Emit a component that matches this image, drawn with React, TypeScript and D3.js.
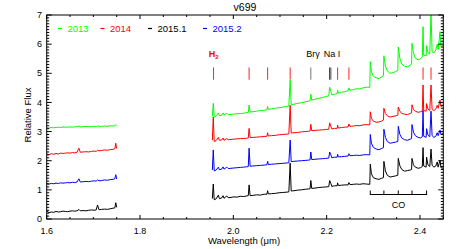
import React from 'react';
import * as d3 from 'd3';

const W = 457;
const H = 249;

const xMajorTicks = [1.6, 1.8, 2.0, 2.2, 2.4];
const yMajorTicks = [0, 1, 2, 3, 4, 5, 6, 7];

const seriesNames = ['2013', '2014', '2015.1', '2015.2'];
const seriesColors = ['#00ff00', '#ff0000', '#000000', '#0000ff'];

// H band
const hWave = [1.600, 1.605, 1.610, 1.615, 1.620, 1.625, 1.630, 1.635, 1.640, 1.645, 1.650, 1.655, 1.660, 1.665, 1.669, 1.672,
  1.678, 1.684, 1.690, 1.696, 1.702, 1.706, 1.709, 1.712, 1.718, 1.724, 1.730, 1.736, 1.742, 1.746, 1.748, 1.750];
const h2013 = [3.14, 3.12, 3.14, 3.13, 3.14, 3.15, 3.14, 3.16, 3.15, 3.15, 3.16, 3.15, 3.16, 3.17, 3.19, 3.16,
  3.17, 3.18, 3.17, 3.17, 3.18, 3.17, 3.20, 3.18, 3.18, 3.19, 3.18, 3.20, 3.19, 3.20, 3.24, 3.21];
const h2014 = [2.23, 2.21, 2.24, 2.22, 2.25, 2.23, 2.26, 2.25, 2.26, 2.27, 2.26, 2.28, 2.27, 2.29, 2.43, 2.29,
  2.30, 2.31, 2.30, 2.32, 2.33, 2.32, 2.36, 2.34, 2.35, 2.37, 2.36, 2.38, 2.39, 2.41, 2.60, 2.42];
const h2015a = [0.27, 0.22, 0.24, 0.23, 0.26, 0.24, 0.25, 0.27, 0.26, 0.25, 0.27, 0.28, 0.27, 0.28, 0.33, 0.28,
  0.29, 0.28, 0.30, 0.31, 0.30, 0.31, 0.48, 0.32, 0.33, 0.34, 0.33, 0.35, 0.37, 0.38, 0.56, 0.40];
const h2015b = [1.22, 1.20, 1.22, 1.21, 1.23, 1.22, 1.24, 1.23, 1.24, 1.25, 1.24, 1.26, 1.25, 1.27, 1.38, 1.27,
  1.28, 1.29, 1.28, 1.30, 1.31, 1.30, 1.34, 1.31, 1.32, 1.34, 1.33, 1.35, 1.36, 1.38, 1.52, 1.37];

// K band
const kWave = [1.955, 1.957, 1.959, 1.963, 1.968, 1.970, 1.975, 1.978, 1.980, 1.986, 1.989, 1.995, 2.001, 2.008, 2.015, 2.022,
  2.028, 2.032, 2.0338, 2.036, 2.042, 2.050, 2.058, 2.066, 2.072, 2.0735, 2.075, 2.082, 2.090, 2.098, 2.106, 2.113,
  2.119, 2.1218, 2.124, 2.130, 2.138, 2.146, 2.154, 2.161, 2.1645, 2.1661, 2.168, 2.175, 2.183, 2.191, 2.198, 2.2045,
  2.2065, 2.209, 2.211, 2.217, 2.2225, 2.2235, 2.225, 2.232, 2.239, 2.246, 2.2477, 2.250, 2.257, 2.264, 2.271, 2.278,
  2.285, 2.2925, 2.2935, 2.296, 2.300, 2.306, 2.312, 2.318, 2.3218, 2.3227, 2.326, 2.330, 2.336, 2.342, 2.348, 2.3525,
  2.3535, 2.357, 2.361, 2.367, 2.373, 2.379, 2.3820, 2.3829, 2.386, 2.390, 2.396, 2.401, 2.405, 2.4066, 2.408, 2.4132,
  2.4142, 2.417, 2.421, 2.4237, 2.426, 2.430, 2.434, 2.437, 2.439, 2.443, 2.445, 2.450];
const k2013 = [3.52, 3.97, 3.50, 3.54, 3.64, 3.55, 3.56, 3.64, 3.57, 3.63, 3.58, 3.59, 3.60, 3.61, 3.62, 3.63,
  3.65, 3.66, 3.91, 3.67, 3.68, 3.70, 3.72, 3.73, 3.75, 3.86, 3.76, 3.78, 3.80, 3.82, 3.84, 3.86,
  3.88, 4.77, 3.92, 3.94, 3.97, 3.99, 4.02, 4.04, 4.06, 4.28, 4.08, 4.11, 4.14, 4.17, 4.20, 4.23,
  4.52, 4.38, 4.26, 4.28, 4.30, 4.42, 4.32, 4.35, 4.37, 4.40, 4.50, 4.42, 4.44, 4.47, 4.46, 4.50,
  4.52, 4.52, 5.40, 5.05, 4.90, 4.84, 4.82, 4.88, 4.92, 5.60, 5.25, 5.08, 5.00, 5.02, 5.06, 5.10,
  5.90, 5.50, 5.32, 5.24, 5.22, 5.28, 5.32, 6.03, 5.70, 5.52, 5.46, 5.50, 5.56, 6.60, 5.62, 5.60,
  5.95, 5.72, 5.66, 7.10, 5.74, 5.70, 5.80, 6.00, 5.82, 6.43, 5.92, 5.97];
const k2014 = [2.70, 3.50, 2.66, 2.69, 2.80, 2.70, 2.71, 2.78, 2.70, 2.76, 2.72, 2.73, 2.74, 2.75, 2.76, 2.76,
  2.77, 2.78, 3.11, 2.79, 2.80, 2.81, 2.82, 2.83, 2.84, 2.96, 2.85, 2.86, 2.87, 2.89, 2.90, 2.91,
  2.92, 3.90, 2.95, 2.96, 2.97, 2.99, 3.00, 3.01, 3.02, 3.25, 3.03, 3.04, 3.05, 3.06, 3.07, 3.08,
  3.30, 3.18, 3.09, 3.11, 3.11, 3.22, 3.12, 3.14, 3.15, 3.16, 3.26, 3.18, 3.19, 3.21, 3.20, 3.23,
  3.24, 3.23, 3.68, 3.45, 3.36, 3.32, 3.33, 3.36, 3.40, 3.80, 3.62, 3.54, 3.50, 3.52, 3.54, 3.56,
  3.84, 3.70, 3.62, 3.60, 3.58, 3.62, 3.64, 3.92, 3.76, 3.70, 3.66, 3.68, 3.70, 4.60, 3.72, 3.70,
  3.96, 3.78, 3.72, 4.60, 3.76, 3.72, 3.78, 3.90, 3.80, 4.08, 3.86, 3.90];
const k2015a = [0.70, 1.20, 0.66, 0.69, 0.82, 0.70, 0.72, 0.80, 0.71, 0.79, 0.73, 0.74, 0.76, 0.75, 0.78, 0.77,
  0.79, 0.80, 1.17, 0.80, 0.81, 0.83, 0.82, 0.85, 0.85, 0.97, 0.86, 0.87, 0.88, 0.90, 0.91, 0.92,
  0.93, 1.92, 0.96, 0.97, 0.99, 1.00, 1.02, 1.03, 1.04, 1.32, 1.05, 1.06, 1.08, 1.09, 1.10, 1.11,
  1.32, 1.22, 1.12, 1.14, 1.14, 1.24, 1.15, 1.16, 1.17, 1.17, 1.25, 1.18, 1.19, 1.20, 1.19, 1.21,
  1.20, 1.19, 1.88, 1.55, 1.42, 1.38, 1.36, 1.40, 1.42, 1.98, 1.65, 1.50, 1.44, 1.46, 1.48, 1.50,
  2.08, 1.82, 1.70, 1.64, 1.66, 1.68, 1.70, 2.08, 1.86, 1.78, 1.74, 1.76, 1.80, 2.45, 1.82, 1.78,
  2.12, 1.86, 1.80, 2.40, 1.84, 1.78, 1.82, 1.96, 1.78, 2.02, 1.76, 1.74];
const k2015b = [1.68, 2.37, 1.65, 1.68, 1.78, 1.69, 1.71, 1.79, 1.71, 1.78, 1.73, 1.74, 1.75, 1.76, 1.77, 1.78,
  1.79, 1.80, 2.43, 1.81, 1.82, 1.83, 1.84, 1.85, 1.86, 1.98, 1.87, 1.88, 1.89, 1.90, 1.91, 1.92,
  1.93, 2.71, 1.97, 1.98, 1.99, 2.00, 2.01, 2.02, 2.03, 2.30, 2.04, 2.05, 2.06, 2.07, 2.08, 2.09,
  2.30, 2.20, 2.10, 2.12, 2.12, 2.22, 2.13, 2.14, 2.15, 2.16, 2.24, 2.17, 2.18, 2.19, 2.18, 2.20,
  2.21, 2.20, 2.90, 2.60, 2.46, 2.40, 2.38, 2.42, 2.45, 3.08, 2.80, 2.66, 2.60, 2.62, 2.64, 2.66,
  3.18, 2.90, 2.78, 2.72, 2.70, 2.74, 2.76, 3.24, 2.98, 2.86, 2.80, 2.78, 2.82, 3.72, 2.84, 2.80,
  3.10, 2.88, 2.82, 3.70, 2.86, 2.80, 2.84, 2.96, 2.86, 3.05, 2.90, 2.94];

const hSeries = [h2013, h2014, h2015a, h2015b];
const kSeries = [k2013, k2014, k2015a, k2015b];

// line identifications
const h2Lines = [1.9576, 2.0338, 2.0735, 2.1218, 2.2235, 2.2477, 2.4066, 2.4237];
const brgLines = [2.1661];
const naLines = [2.2062, 2.2090];
const coBandheads = [2.2935, 2.3227, 2.3535, 2.3829, 2.4142];

const FONT = 'Liberation Sans, Arial, Helvetica, sans-serif';

export default function App() {
  const x = d3.scaleLinear().domain([1.6, 2.45]).range([46.7, 443.3]);
  const y = d3.scaleLinear().domain([0, 7]).range([219, 15]);
  const [x0, x1] = x.range();
  const [y0, y1] = y.range();

  const line = d3.line<[number, number]>().x((d) => x(d[0])).y((d) => y(d[1]));
  const xMinor = d3.range(1.6, 2.4501, 0.05).filter((v) => !xMajorTicks.some((t) => Math.abs(t - v) < 1e-6));
  const yMinor = d3.range(0, 7.0001, 0.1).filter((v) => !yMajorTicks.some((t) => Math.abs(t - v) < 1e-6));

  const legendX = [58, 100.5, 148, 203];

  return (
    <svg width={W} height={H} style={{ position: 'absolute', left: 0, top: 0, background: '#fff' }} fontFamily={FONT}>
      <defs>
        <clipPath id="plotclip">
          <rect x={x0} y={y1} width={x1 - x0} height={y0 - y1} />
        </clipPath>
      </defs>
      <rect width={W} height={H} fill="#fff" />

      {/* spectra */}
      <g clipPath="url(#plotclip)" fill="none" strokeWidth={1}>
        {hSeries.map((s, i) => (
          <path key={'h' + i} d={line(hWave.map((w, j) => [w, s[j]]))!} stroke={seriesColors[i]} />
        ))}
        {kSeries.map((s, i) => (
          <path key={'k' + i} d={line(kWave.map((w, j) => [w, s[j]]))!} stroke={seriesColors[i]} />
        ))}
      </g>

      {/* line identification markers */}
      {h2Lines.map((w) => (
        <line key={'h2' + w} x1={x(w)} x2={x(w)} y1={y(5.2)} y2={y(4.78)} stroke="#ff2020" strokeWidth={1} />
      ))}
      {brgLines.map((w) => (
        <line key={'br' + w} x1={x(w)} x2={x(w)} y1={y(5.2)} y2={y(4.78)} stroke="#777" strokeWidth={1} />
      ))}
      {naLines.map((w) => (
        <line key={'na' + w} x1={x(w)} x2={x(w)} y1={y(5.2)} y2={y(4.78)} stroke="#444" strokeWidth={1} />
      ))}
      <text x={x(h2Lines[0])} y={57} fill="#ff0000" fontSize={9} fontWeight="bold" textAnchor="middle">
        H<tspan fontSize={6} dy={2}>2</tspan>
      </text>
      <text x={313} y={57} fill="#000" fontSize={9} textAnchor="middle">Brγ</text>
      <text x={332} y={57} fill="#000" fontSize={9} textAnchor="middle">Na I</text>

      {/* CO bracket */}
      <line x1={x(coBandheads[0])} x2={x(coBandheads[coBandheads.length - 1])} y1={194.5} y2={194.5} stroke="#000" />
      {coBandheads.map((w) => (
        <line key={'co' + w} x1={x(w)} x2={x(w)} y1={190.5} y2={195} stroke="#000" />
      ))}
      <text x={(x(coBandheads[0]) + x(coBandheads[4])) / 2} y={208} fontSize={9} textAnchor="middle">CO</text>

      {/* frame */}
      <rect x={x0} y={y1} width={x1 - x0} height={y0 - y1} fill="none" stroke="#000" strokeWidth={1} />

      {/* x ticks */}
      {xMajorTicks.map((t) => (
        <g key={'xt' + t}>
          <line x1={x(t)} x2={x(t)} y1={y0} y2={y0 - 4} stroke="#000" />
          <line x1={x(t)} x2={x(t)} y1={y1} y2={y1 + 4} stroke="#000" />
          <text x={x(t)} y={233.5} fontSize={9} textAnchor="middle">{t.toFixed(1)}</text>
        </g>
      ))}
      {xMinor.map((t) => (
        <g key={'xm' + t}>
          <line x1={x(t)} x2={x(t)} y1={y0} y2={y0 - 2} stroke="#000" />
          <line x1={x(t)} x2={x(t)} y1={y1} y2={y1 + 2} stroke="#000" />
        </g>
      ))}
      {/* y ticks */}
      {yMajorTicks.map((t) => (
        <g key={'yt' + t}>
          <line x1={x0} x2={x0 + 5} y1={y(t)} y2={y(t)} stroke="#000" />
          <line x1={x1} x2={x1 - 5} y1={y(t)} y2={y(t)} stroke="#000" />
          <text x={42} y={y(t) + 3.2} fontSize={9} textAnchor="end">{t}</text>
        </g>
      ))}
      {yMinor.map((t) => (
        <g key={'ym' + t}>
          <line x1={x0} x2={x0 + 2.5} y1={y(t)} y2={y(t)} stroke="#000" />
          <line x1={x1} x2={x1 - 2.5} y1={y(t)} y2={y(t)} stroke="#000" />
        </g>
      ))}

      {/* axis titles */}
      <text x={244} y={244} fontSize={9.5} textAnchor="middle">Wavelength (μm)</text>
      <text transform="translate(31,115) rotate(-90)" fontSize={9.5} textAnchor="middle">Relative Flux</text>
      <text x={245} y={10.5} fontSize={10.5} textAnchor="middle">v699</text>

      {/* legend */}
      {seriesNames.map((n, i) => (
        <g key={'lg' + n}>
          <line x1={legendX[i]} x2={legendX[i] + 4} y1={28.5} y2={28.5} stroke={seriesColors[i]} strokeWidth={1.2} />
          <text x={legendX[i] + 9.5} y={31.8} fontSize={9.5} fill={seriesColors[i]}>{n}</text>
        </g>
      ))}
    </svg>
  );
}
